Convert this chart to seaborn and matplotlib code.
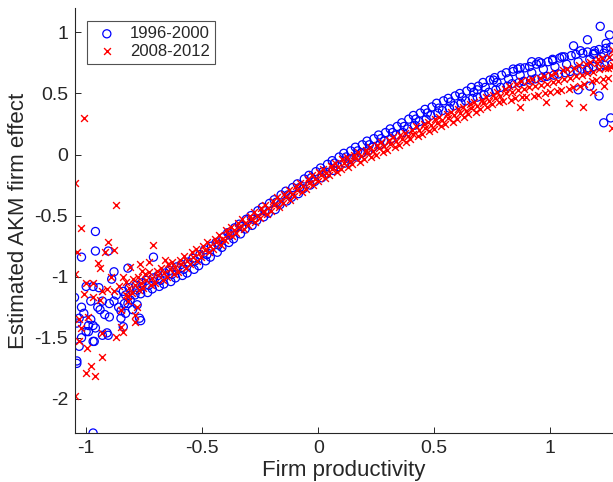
import pandas as pd
import matplotlib
matplotlib.use('Agg')
import matplotlib.pyplot as plt
import seaborn as sns

# values (firm productivity vs AKM firm effect)
blue_x = [
    -0.84, -0.835, -0.815, -0.81, -0.79, -0.785, -0.765, -0.76, -0.74, -0.735,
    -0.715, -0.71, -0.69, -0.685, -0.665, -0.66, -0.64, -0.635, -0.615, -0.61,
    -0.59, -0.585, -0.565, -0.56, -0.54, -0.535, -0.515, -0.51, -0.49, -0.485,
    -0.465, -0.46, -0.44, -0.435, -0.415, -0.41, -0.39, -0.385, -0.365, -0.36,
    -0.34, -0.335, -0.315, -0.31, -0.29, -0.285, -0.265, -0.26, -0.24, -0.235,
    -0.215, -0.21, -0.19, -0.185, -0.165, -0.16, -0.14, -0.135, -0.115, -0.11,
    -0.09, -0.085, -0.065, -0.06, -0.04, -0.035, -0.015, -0.01, 0.01, 0.015,
    0.035, 0.04, 0.06, 0.065, 0.085, 0.09, 0.11, 0.115, 0.135, 0.14,
    0.16, 0.165, 0.185, 0.19, 0.21, 0.215, 0.235, 0.24, 0.26, 0.265,
    0.285, 0.29, 0.31, 0.315, 0.335, 0.34, 0.36, 0.365, 0.385, 0.39,
    0.41, 0.415, 0.435, 0.44, 0.46, 0.465, 0.485, 0.49, 0.51, 0.515,
    0.535, 0.54, 0.56, 0.565, 0.585, 0.59, 0.61, 0.615, 0.635, 0.64,
    0.66, 0.665, 0.685, 0.69, 0.71, 0.715, 0.735, 0.74, 0.76, 0.765,
    0.785, 0.79, 0.81, 0.815, 0.835, 0.84, 0.86, 0.865, 0.885, 0.89,
    0.91, 0.915, 0.935, 0.94, 0.96, 0.965, 0.985, 0.99, 1.01, 1.015,
    1.035, 1.04, 1.06, 1.065, 1.085, 1.09, 1.11, 1.115, 1.135, 1.14,
    1.16, 1.165, 1.185, 1.19, 1.21, 1.215, 1.235, 1.24, 1.26, 1.265,
    -0.83, -0.78, -0.73, -0.68, -0.63, -0.58, -0.53, -0.48, -0.43, -0.38,
    -0.33, -0.28, -0.23, -0.18, -0.13, -0.08, -0.03, 0.02, 0.07, 0.12,
    0.17, 0.22, 0.27, 0.32, 0.37, 0.42, 0.47, 0.52, 0.57, 0.62,
    0.67, 0.72, 0.77, 0.82, 0.87, 0.92, 0.97, 1.02, 1.07, 1.12,
    1.17, 1.22, 1.27,
    -0.96, -0.96, -0.905, -1.02, -0.71, -1.05, -0.88, -0.89, -0.82, -0.97,
    -1.0, -0.945, -1.02, -0.94, -0.92, -0.9, -0.85, -0.77, -1.03, -0.99,
    -0.97, -0.99, -0.91, -0.97, -1.04, -1.04, -0.97, -1.03, -0.965, -0.93,
    -0.905, -0.84, -0.765, -0.88, -0.86, -0.87, -0.85, -0.83, -0.82, -0.8,
    -0.9, -0.93, -0.95, -0.78, -1.04, -1.01, -0.98, -1.0, -1.02, -0.96,
    -0.98,
    1.215, 1.16, 1.1, 1.13, 1.24, 1.255, 1.23, 1.26, 1.21, 1.01,
    0.92, 0.95, 0.84, 0.87, 1.05, 1.185, 1.19, 1.23, 1.12, 1.17,
    1.16, 0.755, 0.685,
]
blue_y = [
    -1.12, -1.22, -1.09, -1.19, -1.15, -1.07, -1.14, -1.05, -1.03, -1.13,
    -1.10, -1.01, -0.99, -1.08, -1.06, -0.97, -0.95, -1.04, -1.01, -0.92,
    -0.90, -0.99, -0.97, -0.88, -0.85, -0.94, -0.91, -0.82, -0.78, -0.87,
    -0.84, -0.75, -0.72, -0.80, -0.76, -0.68, -0.64, -0.72, -0.69, -0.60,
    -0.57, -0.65, -0.61, -0.53, -0.50, -0.58, -0.54, -0.46, -0.43, -0.51,
    -0.48, -0.40, -0.37, -0.45, -0.41, -0.33, -0.30, -0.38, -0.35, -0.27,
    -0.24, -0.32, -0.28, -0.20, -0.17, -0.25, -0.22, -0.14, -0.11, -0.19,
    -0.16, -0.08, -0.05, -0.13, -0.10, -0.02, 0.01, -0.07, -0.04, 0.03,
    0.06, -0.02, 0.01, 0.08, 0.11, 0.03, 0.06, 0.13, 0.16, 0.08,
    0.11, 0.18, 0.21, 0.13, 0.16, 0.23, 0.26, 0.18, 0.21, 0.29,
    0.32, 0.24, 0.27, 0.34, 0.37, 0.29, 0.32, 0.39, 0.42, 0.34,
    0.36, 0.44, 0.46, 0.38, 0.40, 0.48, 0.50, 0.42, 0.44, 0.52,
    0.55, 0.46, 0.47, 0.56, 0.59, 0.49, 0.51, 0.61, 0.63, 0.53,
    0.55, 0.65, 0.67, 0.56, 0.58, 0.68, 0.70, 0.59, 0.60, 0.71,
    0.72, 0.61, 0.62, 0.74, 0.75, 0.63, 0.64, 0.76, 0.78, 0.65,
    0.66, 0.79, 0.80, 0.67, 0.68, 0.81, 0.82, 0.69, 0.70, 0.83,
    0.84, 0.71, 0.72, 0.85, 0.86, 0.72, 0.73, 0.87, 0.88, 0.74,
    -1.15, -1.11, -1.07, -1.03, -0.98, -0.94, -0.87, -0.82, -0.74, -0.66,
    -0.59, -0.53, -0.46, -0.39, -0.33, -0.27, -0.19, -0.14, -0.07, -0.02,
    0.03, 0.08, 0.13, 0.18, 0.23, 0.29, 0.34, 0.38, 0.43, 0.47,
    0.51, 0.55, 0.59, 0.62, 0.65, 0.67, 0.70, 0.72, 0.74, 0.76,
    0.78, 0.80, 0.81,
    -0.63, -0.79, -0.79, -0.84, -0.84, -1.17, -0.96, -1.02, -0.93, -1.08,
    -1.08, -1.09, -1.25, -1.27, -1.31, -1.33, -1.34, -1.34, -1.34, -1.40,
    -1.40, -1.45, -1.46, -1.53, -1.69, -1.71, -2.28, -1.57, -1.53, -1.48,
    -1.48, -1.41, -1.36, -1.20, -1.25, -1.15, -1.28, -1.30, -1.22, -1.27,
    -1.22, -1.20, -1.25, -1.23, -1.38, -1.30, -1.35, -1.45, -1.50, -1.42,
    -1.20,
    1.05, 0.94, 0.89, 0.85, 0.91, 0.98, 0.26, 0.30, 0.48, 0.77,
    0.76, 0.76, 0.70, 0.71, 0.80, 0.82, 0.83, 0.83, 0.53, 0.56,
    0.69, 0.61, 0.53,
]

red_x = [
    -0.828, -0.821, -0.815, -0.803, -0.796, -0.790, -0.778, -0.771, -0.765,
    -0.753, -0.746, -0.740, -0.728, -0.721, -0.715, -0.703, -0.696, -0.690,
    -0.678, -0.671, -0.665, -0.653, -0.646, -0.640, -0.628, -0.621, -0.615,
    -0.603, -0.596, -0.590, -0.578, -0.571, -0.565, -0.553, -0.546, -0.540,
    -0.528, -0.521, -0.515, -0.503, -0.496, -0.490, -0.478, -0.471, -0.465,
    -0.453, -0.446, -0.440, -0.428, -0.421, -0.415, -0.403, -0.396, -0.390,
    -0.378, -0.371, -0.365, -0.353, -0.346, -0.340, -0.328, -0.321, -0.315,
    -0.303, -0.296, -0.290, -0.278, -0.271, -0.265, -0.253, -0.246, -0.240,
    -0.228, -0.221, -0.215, -0.203, -0.196, -0.190, -0.178, -0.171, -0.165,
    -0.153, -0.146, -0.140, -0.128, -0.121, -0.115, -0.103, -0.096, -0.090,
    -0.078, -0.071, -0.065, -0.053, -0.046, -0.040, -0.028, -0.021, -0.015,
    -0.003, 0.004, 0.010, 0.022, 0.029, 0.035, 0.047, 0.054, 0.060,
    0.072, 0.079, 0.085, 0.097, 0.104, 0.110, 0.122, 0.129, 0.135,
    0.147, 0.154, 0.160, 0.172, 0.179, 0.185, 0.197, 0.204, 0.210,
    0.222, 0.229, 0.235, 0.247, 0.254, 0.260, 0.272, 0.279, 0.285,
    0.297, 0.304, 0.310, 0.322, 0.329, 0.335, 0.347, 0.354, 0.360,
    0.372, 0.379, 0.385, 0.397, 0.404, 0.410, 0.422, 0.429, 0.435,
    0.447, 0.454, 0.460, 0.472, 0.479, 0.485, 0.497, 0.504, 0.510,
    0.522, 0.529, 0.535, 0.547, 0.554, 0.560, 0.572, 0.579, 0.585,
    0.597, 0.604, 0.610, 0.622, 0.629, 0.635, 0.647, 0.654, 0.660,
    0.672, 0.679, 0.685, 0.697, 0.704, 0.710, 0.722, 0.729, 0.735,
    0.747, 0.754, 0.760, 0.772, 0.779, 0.785, 0.797, 0.804, 0.810,
    0.822, 0.829, 0.835, 0.847, 0.854, 0.860, 0.872, 0.879, 0.885,
    0.897, 0.904, 0.910, 0.922, 0.929, 0.935, 0.947, 0.954, 0.960,
    0.972, 0.979, 0.985, 0.997, 1.004, 1.010, 1.022, 1.029, 1.035,
    1.047, 1.054, 1.060, 1.072, 1.079, 1.085, 1.097, 1.104, 1.110,
    1.122, 1.129, 1.135, 1.147, 1.154, 1.160, 1.172, 1.179, 1.185,
    1.197, 1.204, 1.210, 1.222, 1.229, 1.235, 1.247, 1.254, 1.260,
    1.272,
    -1.05, -1.01, -0.87, -1.02, -1.04, -0.71, -0.905, -0.88, -0.92, -0.95,
    -0.94, -0.895, -0.84, -1.0, -0.97, -0.91, -0.97, -0.94, -1.05, -0.85,
    -0.79, -0.79, -1.03, -0.99, -1.02, -0.93, -0.87, -0.84, -0.85, -1.03,
    -0.995, -0.93, -0.98, -1.0, -0.96, -1.05, -1.01, -0.93, -0.88, -0.86,
    -0.83, -0.81, -0.77, -0.76, -0.73, -0.66, -0.78, -0.82,
    1.14, 1.08, 0.98, 0.87, 1.27, 1.25, 1.185, 1.23, 1.2, 1.265,
]
red_y = [
    -1.04, -1.16, -1.09, -1.13, -1.02, -1.07, -1.00, -1.11, -1.05,
    -1.09, -0.98, -1.03, -0.96, -1.07, -1.01, -1.05, -0.95, -0.99,
    -0.93, -1.03, -0.97, -1.00, -0.90, -0.94, -0.88, -0.98, -0.92,
    -0.96, -0.86, -0.90, -0.83, -0.93, -0.87, -0.90, -0.80, -0.84,
    -0.77, -0.87, -0.81, -0.84, -0.75, -0.78, -0.72, -0.80, -0.75,
    -0.77, -0.69, -0.72, -0.66, -0.74, -0.69, -0.70, -0.62, -0.65,
    -0.59, -0.67, -0.62, -0.64, -0.56, -0.59, -0.53, -0.61, -0.56,
    -0.58, -0.50, -0.53, -0.47, -0.55, -0.50, -0.52, -0.44, -0.47,
    -0.41, -0.49, -0.44, -0.46, -0.38, -0.41, -0.35, -0.43, -0.38,
    -0.40, -0.32, -0.35, -0.29, -0.37, -0.32, -0.34, -0.26, -0.29,
    -0.23, -0.31, -0.26, -0.28, -0.20, -0.23, -0.17, -0.25, -0.20,
    -0.22, -0.14, -0.17, -0.12, -0.19, -0.15, -0.17, -0.09, -0.12,
    -0.07, -0.14, -0.10, -0.12, -0.04, -0.07, -0.02, -0.10, -0.05,
    -0.08, 0.00, -0.03, 0.02, -0.06, -0.01, -0.04, 0.04, 0.01,
    0.06, -0.02, 0.03, 0.00, 0.08, 0.05, 0.10, 0.02, 0.07,
    0.04, 0.12, 0.09, 0.14, 0.06, 0.11, 0.08, 0.16, 0.13,
    0.18, 0.10, 0.15, 0.125, 0.205, 0.17, 0.23, 0.15, 0.20,
    0.17, 0.25, 0.22, 0.27, 0.19, 0.24, 0.21, 0.29, 0.26,
    0.31, 0.23, 0.28, 0.25, 0.33, 0.30, 0.35, 0.27, 0.32,
    0.29, 0.37, 0.34, 0.39, 0.31, 0.36, 0.33, 0.41, 0.38,
    0.43, 0.35, 0.40, 0.37, 0.45, 0.42, 0.47, 0.39, 0.44,
    0.41, 0.49, 0.46, 0.51, 0.43, 0.48, 0.44, 0.54, 0.50,
    0.56, 0.45, 0.51, 0.46, 0.58, 0.53, 0.60, 0.47, 0.54,
    0.47, 0.61, 0.55, 0.62, 0.48, 0.56, 0.49, 0.63, 0.57,
    0.64, 0.50, 0.58, 0.51, 0.65, 0.59, 0.67, 0.52, 0.60,
    0.53, 0.69, 0.62, 0.70, 0.54, 0.63, 0.55, 0.71, 0.64,
    0.73, 0.56, 0.65, 0.58, 0.74, 0.67, 0.76, 0.60, 0.68,
    0.61, 0.78, 0.70, 0.79, 0.62, 0.71, 0.63, 0.80, 0.72,
    0.73,
    -0.23, 0.30, -0.41, -0.60, -0.80, -0.74, -0.72, -0.78, -0.80, -0.89,
    -0.93, -1.00, -1.00, -1.05, -1.05, -1.10, -1.17, -1.19, -0.98, -1.27,
    -1.31, -1.37, -1.35, -1.33, -1.42, -1.46, -1.49, -1.45, -1.41, -1.53,
    -1.58, -1.66, -1.73, -1.79, -1.81, -1.98, -1.14, -1.12, -1.12, -1.08,
    -1.15, -0.92, -0.90, -0.95, -0.88, -0.86, -1.25, -1.20,
    0.39, 0.42, 0.43, 0.39, 0.86, 0.71, 0.51, 0.56, 0.75, 0.22,
]

labels = ['1996-2000', '2008-2012']

df_blue = pd.DataFrame({'x': blue_x, 'y': blue_y})
df_red = pd.DataFrame({'x': red_x, 'y': red_y})

sns.set_style('ticks')
plt.rcParams['font.family'] = ['Liberation Sans', 'DejaVu Sans']
plt.rcParams['axes.unicode_minus'] = False

fig = plt.figure(figsize=(6.13, 4.82), dpi=100)
ax = fig.add_axes([75 / 613, 49 / 482, 538 / 613, 425 / 482])

sns.scatterplot(data=df_blue, x='x', y='y', marker='o', s=34,
                facecolors='none', edgecolor='#0000ff', linewidth=0.9,
                label=labels[0], ax=ax)
sns.scatterplot(data=df_red, x='x', y='y', marker='x', s=24,
                color='#ff0000', linewidth=1.0,
                label=labels[1], ax=ax)

ax.set_xlim(-1.048, 1.27)
ax.set_ylim(-2.28, 1.2)
ax.set_xticks([-1, -0.5, 0, 0.5, 1])
ax.set_xticklabels(['-1', '-0.5', '0', '0.5', '1'])
ax.set_yticks([-2, -1.5, -1, -0.5, 0, 0.5, 1])
ax.set_yticklabels(['-2', '-1.5', '-1', '-0.5', '0', '0.5', '1'])
ax.tick_params(direction='in', length=4, width=0.7, labelsize=14,
               colors='#262626', pad=5)
for side in ['top', 'right']:
    ax.spines[side].set_visible(False)
for side in ['left', 'bottom']:
    ax.spines[side].set_color('#262626')
    ax.spines[side].set_linewidth(0.8)

ax.set_xlabel('Firm productivity', fontsize=16, color='#262626', labelpad=2)
ax.set_ylabel('Estimated AKM firm effect', fontsize=16, color='#262626', labelpad=4)

leg = ax.legend(loc='upper left', bbox_to_anchor=(0.022, 0.969), fontsize=12,
                borderaxespad=0, frameon=True, fancybox=False, borderpad=0.3,
                handletextpad=0.5, labelspacing=0.15, handlelength=1.8,
                markerscale=1.0)
leg.get_frame().set_edgecolor('#262626')
leg.get_frame().set_linewidth(0.8)

fig.savefig('out.png', dpi=100)
